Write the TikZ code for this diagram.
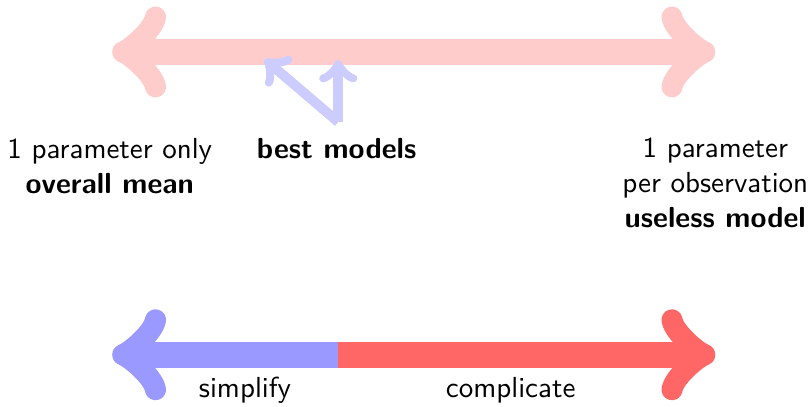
\documentclass[tikz,border=0pt]{standalone}
\usetikzlibrary{positioning}
\begin{document}
\begin{tikzpicture}[font=\sffamily,
    bigarrow/.style={line width=3.2mm},
    pointer/.style={->, line width=1.2mm, blue!20}]
  \useasboundingbox (0,0) rectangle (9.83,4.93);
  % top scale
  \coordinate (topleft) at (1.36,4.30);
  \coordinate (topright) at (8.67,4.30);
  \coordinate (base) at (4.10,3.45);
  \coordinate (tipa) at (3.21,4.21);
  \coordinate (tipb) at (4.10,4.20);
  \draw[bigarrow, red!20, <->] (topleft) -- (topright);
  \draw[pointer] (base) -- (tipa);
  \draw[pointer] (base) -- (tipb);
  \node[anchor=north, align=center] (few) at (1.33,3.38) {1 parameter only\\\textbf{overall mean}};
  \node[anchor=north] (best) at (4.08,3.38) {\textbf{best models}};
  \node[anchor=north, align=center] (many) at (8.67,3.38) {1 parameter\\per observation\\\textbf{useless model}};
  % bottom scale
  \coordinate (lowleft) at (1.36,0.63);
  \coordinate (split) at (4.10,0.63);
  \coordinate (lowright) at (8.67,0.63);
  \draw[bigarrow, blue!40, <-] (lowleft) -- (split);
  \draw[bigarrow, red!60, ->] (split) -- (lowright);
  \node[anchor=base] (simp) at (2.97,0.11) {simplify};
  \node[anchor=base] (comp) at (6.19,0.11) {complicate};
\end{tikzpicture}
\end{document}
